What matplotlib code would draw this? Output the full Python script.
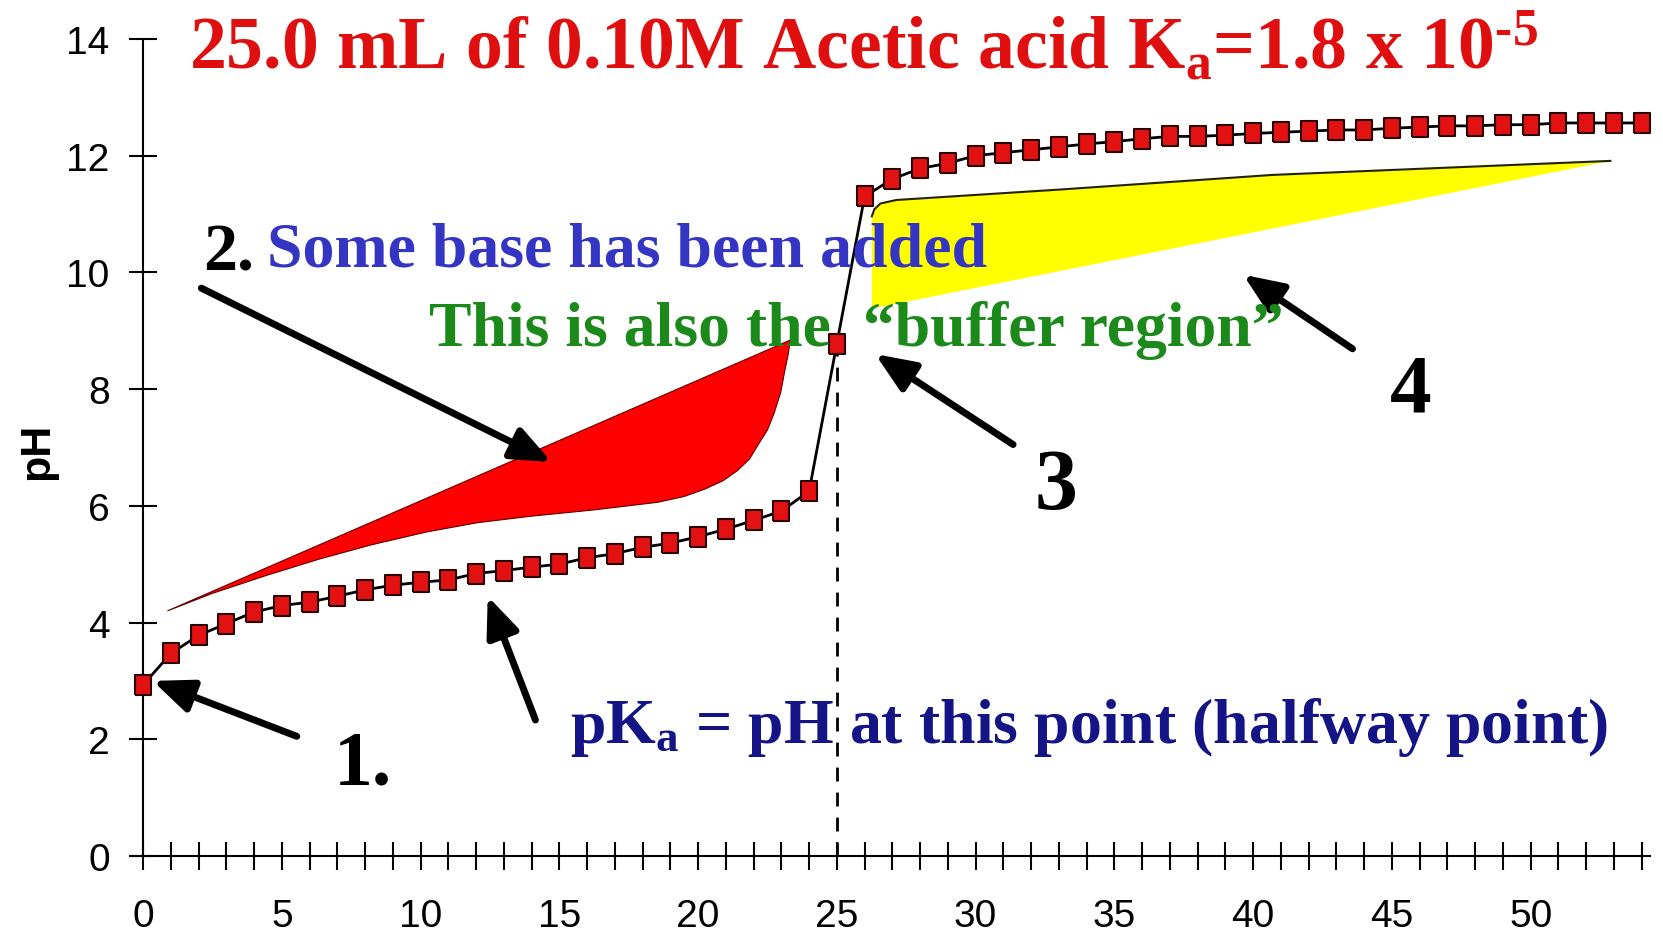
import numpy as np
import matplotlib
matplotlib.use('Agg')
import matplotlib.pyplot as plt
from matplotlib.ticker import FixedLocator, FuncFormatter

# titration data: volume of base (mL) and pH
vol = list(range(0, 55))
ph = [2.93, 3.47, 3.78, 3.98, 4.18, 4.29, 4.35, 4.45, 4.56, 4.64,
      4.69, 4.73, 4.84, 4.89, 4.95, 5.00, 5.11, 5.18, 5.29, 5.36,
      5.47, 5.60, 5.75, 5.91, 6.25, 8.78, 11.30, 11.60, 11.78, 11.87,
      12.00, 12.05, 12.10, 12.15, 12.20, 12.24, 12.29, 12.33, 12.33, 12.35,
      12.38, 12.40, 12.42, 12.44, 12.44, 12.47, 12.49, 12.51, 12.51, 12.53,
      12.53, 12.56, 12.56, 12.56, 12.56]
equiv_vol = 25
x_ticklabels = [0, 5, 10, 15, 20, 25, 30, 35, 40, 45, 50]
y_ticks = [0, 2, 4, 6, 8, 10, 12, 14]

# decorative shapes (data coords)
red_x = [0.88, 2.5, 4.40, 6.3, 8.22, 10.2, 12.04, 13.95, 16.25, 18.54, 19.5, 20.26, 20.9,
         21.41, 21.85, 22.17, 22.5, 22.75, 22.98, 23.13, 23.25, 23.32]
red_y = [4.20, 4.50, 4.80, 5.08, 5.33, 5.55, 5.71, 5.82, 5.93, 6.06, 6.16, 6.29, 6.43,
         6.60, 6.80, 7.05, 7.30, 7.60, 7.95, 8.33, 8.60, 8.84]
yel_top_x = [26.26, 26.35, 26.57, 27.14, 33.07, 40.71, 52.87]
yel_top_y = [10.96, 11.08, 11.18, 11.24, 11.42, 11.67, 11.91]
yel_bot = (26.26, 9.38)

# arrows: (tail, head)
arrows = [((5.54, 2.05), (0.35, 3.0)),
          ((14.14, 2.33), (12.42, 4.45)),
          ((2.10, 9.73), (14.72, 6.75)),
          ((31.35, 7.05), (26.38, 8.60)),
          ((43.58, 8.69), (39.64, 9.96))]

plt.rcParams['font.family'] = ['Liberation Sans', 'DejaVu Sans']
plt.rcParams['mathtext.fontset'] = 'custom'
plt.rcParams['mathtext.rm'] = 'Liberation Serif:bold'
plt.rcParams['mathtext.it'] = 'Liberation Serif:bold'
plt.rcParams['mathtext.bf'] = 'Liberation Serif:bold'

fig = plt.figure(figsize=(16.63, 9.37), dpi=100)
ax = fig.add_axes([0.0785, 0.0854, 0.9137, 0.872])
ax.set_xlim(-0.45, 54.3)
ax.set_ylim(0, 14)

for s in ['top', 'right']:
    ax.spines[s].set_visible(False)
ax.spines['left'].set_position(('data', 0))
ax.spines['left'].set_linewidth(1.5)
ax.spines['bottom'].set_linewidth(1.5)

ax.xaxis.set_major_locator(FixedLocator(vol))
ax.xaxis.set_major_formatter(FuncFormatter(lambda v, p: f'{int(v)}' if int(v) in x_ticklabels else ''))
ax.set_yticks(y_ticks)
ax.tick_params(axis='both', direction='inout', length=20, width=1.5, labelsize=28)
ax.tick_params(axis='x', pad=20)
ax.tick_params(axis='y', pad=14)

ax.set_ylabel('pH', fontsize=31, fontweight='bold')
ax.yaxis.set_label_coords(-0.048, 0.497)

# shapes: red blob closes back along a straight top edge
ax.fill(red_x, red_y, facecolor='#ff0000', edgecolor='#600000', lw=0.8, zorder=2)
ax.fill(yel_top_x + [yel_bot[0]], yel_top_y + [yel_bot[1]], facecolor='#ffff00', edgecolor='none', zorder=2)
ax.plot(yel_top_x, yel_top_y, color='#222200', lw=1.5, zorder=2)

# dashed equivalence line
ax.plot([equiv_vol, equiv_vol], [0, ph[vol.index(equiv_vol)]], color='black', ls=(0, (5, 4)), lw=2, zorder=3)

box = [(-0.42, -0.5), (0.42, -0.5), (0.42, 0.5), (-0.42, 0.5), (-0.42, -0.5)]
ax.plot(vol, ph, color='black', lw=2, marker=box, markersize=14,
        markerfacecolor='#e31212', markeredgecolor='#2a0000', markeredgewidth=1.5, zorder=4, clip_on=False)

for tail, head in arrows:
    ax.annotate('', xy=head, xytext=tail,
                arrowprops=dict(arrowstyle='-|>,head_length=1.2,head_width=0.5', lw=5,
                                color='black', mutation_scale=20, shrinkA=0, shrinkB=0), zorder=5)

fig.canvas.draw()
renderer = fig.canvas.get_renderer()
serif = ['Liberation Serif', 'DejaVu Serif']


def fit_text(x, y, s, width_px, color, size0=40):
    t = ax.text(x, y, s, fontsize=size0, color=color, family=serif, fontweight='bold',
                ha='left', va='baseline', zorder=6)
    w = t.get_window_extent(renderer).width
    t.set_fontsize(size0 * width_px / w)
    return t


fit_text(1.64, 13.51, '25.0 mL of 0.10M Acetic acid K$_{\\mathrm{a}}$=1.8 x 10$^{\\mathrm{\u20105}}$', 1349, '#e00f0f')
fit_text(4.47, 10.11, 'Some base has been added', 719, '#3535c4')
fit_text(10.32, 8.75, 'This is also the  \u201cbuffer region\u201d', 853, '#1b8a1b')
fit_text(15.37, 1.96, r'pK$_{\mathrm{a}}$ = pH at this point (halfway point)', 1037, '#141486')

for x, y, s, size in [(2.18, 10.05, '2.', 49), (44.92, 7.64, '4', 60),
                      (32.11, 5.96, '3', 62), (6.88, 1.24, '1.', 56)]:
    ax.text(x, y, s, fontsize=size, color='black', family=serif, fontweight='bold',
            ha='left', va='baseline', zorder=6)

fig.savefig('out.png', dpi=100)
